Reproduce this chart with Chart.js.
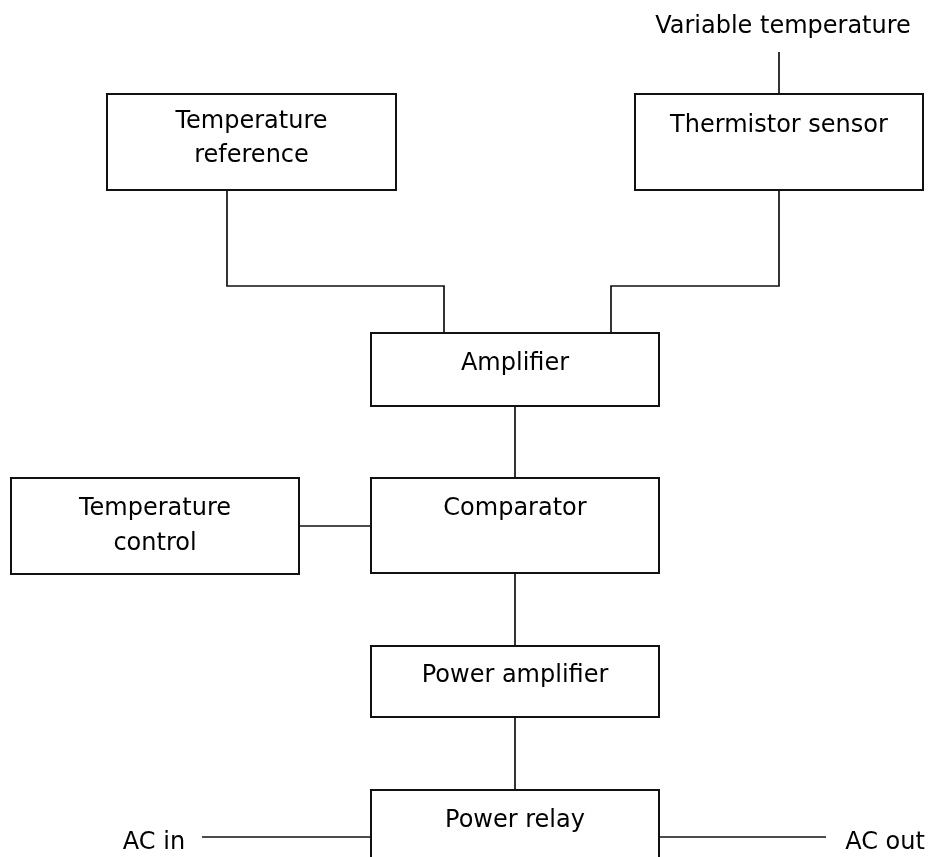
<!DOCTYPE html>
<html lang="en">
<head>
    <meta charset="UTF-8">
    <title>Temperature control block diagram</title>
    <script src="https://cdn.jsdelivr.net/npm/chart.js"></script>
    <style>
        body {
            margin: 0;
            background-color: #fff;
        }
        #wrap {
            width: 928px;
            height: 857px;
        }
    </style>
</head>
<body>

<div id="wrap">
    <canvas id="diagram" width="928" height="857"></canvas>
</div>

<script>
    // blocks of the diagram (diagram units = pixels of the 928x857 page, y grows down)
    var boxNames  = ['Temperature reference', 'Thermistor sensor', 'Amplifier', 'Temperature control', 'Comparator', 'Power amplifier', 'Power relay'];
    var boxLines  = [['Temperature', 'reference'], ['Thermistor sensor'], ['Amplifier'], ['Temperature', 'control'], ['Comparator'], ['Power amplifier'], ['Power relay']];
    var boxLeft   = [107, 635, 371, 11, 371, 371, 371];
    var boxRight  = [396, 923, 659, 299, 659, 659, 659];
    var boxTop    = [94, 94, 333, 478, 478, 646, 790];
    var boxBottom = [190, 190, 406, 574, 573, 717, 900];
    var textBase  = [[128, 162], [132], [370], [515, 550], [515], [682], [827]];

    // connecting wires, each a list of [x, y] corners
    var wires = [
        [[779, 52], [779, 94]],
        [[227, 190], [227, 286], [444, 286], [444, 333]],
        [[779, 190], [779, 286], [611, 286], [611, 333]],
        [[515, 406], [515, 478]],
        [[299, 526], [371, 526]],
        [[515, 573], [515, 646]],
        [[515, 717], [515, 790]],
        [[202, 837], [371, 837]],
        [[659, 837], [826, 837]]
    ];

    // free labels outside the blocks
    var freeText  = ['Variable temperature', 'AC in', 'AC out'];
    var freeX     = [783, 154, 885];
    var freeY     = [33, 849, 849];

    var datasets = [];
    for (var i = 0; i < boxNames.length; i++) {
        datasets.push({
            label: boxNames[i],
            // the second corner is repeated so the first corner gets a proper join
            data: [
                {x: boxLeft[i], y: boxTop[i]},
                {x: boxRight[i], y: boxTop[i]},
                {x: boxRight[i], y: boxBottom[i]},
                {x: boxLeft[i], y: boxBottom[i]},
                {x: boxLeft[i], y: boxTop[i]},
                {x: boxRight[i], y: boxTop[i]}
            ],
            borderColor: '#111',
            borderWidth: 2,
            borderJoinStyle: 'miter',
            showLine: true,
            pointRadius: 0,
            fill: false
        });
    }
    wires.forEach(function (w, k) {
        datasets.push({
            label: 'wire ' + k,
            data: w.map(function (p) { return {x: p[0], y: p[1]}; }),
            borderColor: '#111',
            borderWidth: 1.7,
            borderJoinStyle: 'miter',
            showLine: true,
            pointRadius: 0,
            fill: false
        });
    });

    // writes the block captions and free labels through the scales
    var captions = {
        id: 'captions',
        afterDatasetsDraw: function (chart) {
            var ctx = chart.ctx;
            var sx = chart.scales.x, sy = chart.scales.y;
            ctx.save();
            ctx.fillStyle = '#000';
            ctx.font = '24px "DejaVu Sans"';
            ctx.textAlign = 'center';
            ctx.textBaseline = 'alphabetic';
            for (var i = 0; i < boxNames.length; i++) {
                var cx = (boxLeft[i] + boxRight[i]) / 2;
                for (var j = 0; j < boxLines[i].length; j++) {
                    ctx.fillText(boxLines[i][j], sx.getPixelForValue(cx), sy.getPixelForValue(textBase[i][j]));
                }
            }
            for (var k = 0; k < freeText.length; k++) {
                ctx.fillText(freeText[k], sx.getPixelForValue(freeX[k]), sy.getPixelForValue(freeY[k]));
            }
            ctx.restore();
        }
    };

    new Chart(document.getElementById('diagram'), {
        type: 'scatter',
        data: {datasets: datasets},
        options: {
            responsive: false,
            animation: false,
            layout: {padding: 0},
            plugins: {
                legend: {display: false},
                tooltip: {enabled: false}
            },
            scales: {
                x: {type: 'linear', min: 0, max: 928, display: false},
                y: {type: 'linear', min: 0, max: 857, reverse: true, display: false}
            }
        },
        plugins: [captions]
    });
</script>

</body>
</html>
